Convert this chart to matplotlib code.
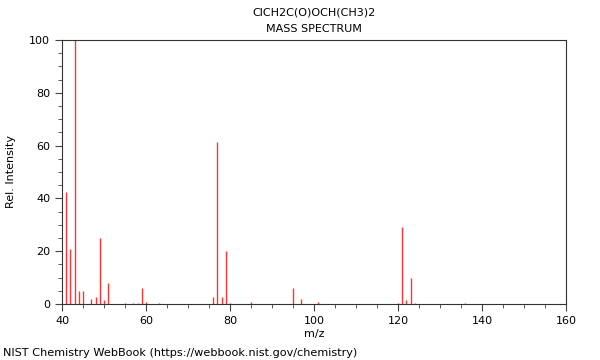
import matplotlib
matplotlib.use("Agg")
import matplotlib.pyplot as plt
from matplotlib.ticker import MultipleLocator

mz = [41, 42, 43, 44, 45, 47, 48, 49, 50, 51, 55, 57, 58, 59, 60, 63,
      76, 77, 78, 79, 80, 85, 95, 97, 101, 120, 121, 122, 123, 124, 136]
intensity = [42.4, 21, 100, 5, 5, 2, 2.5, 25, 1.5, 8, 0.3, 0.5, 0.3, 6, 0.8, 0.3,
             2.7, 61.5, 2.7, 20, 0.5, 0.7, 6, 2, 0.7, 0.3, 29, 1.7, 9.8, 0.5, 0.3]

title_lines = ["ClCH2C(O)OCH(CH3)2", "MASS SPECTRUM"]

fig = plt.figure(figsize=(6, 3.6), dpi=100)
ax = fig.add_axes([62/600, 1-304/360, (566-62)/600, (304-40)/360])
ax.vlines(mz, 0, intensity, colors="#ff3333", linewidth=1)
ax.set_xlim(40, 160)
ax.set_ylim(0, 100)
ax.xaxis.set_major_locator(MultipleLocator(20))
ax.xaxis.set_minor_locator(MultipleLocator(5))
ax.yaxis.set_major_locator(MultipleLocator(20))
ax.yaxis.set_minor_locator(MultipleLocator(5))
ax.tick_params(which="major", length=5, labelsize=8, direction="out", color="#444444")
ax.tick_params(which="minor", length=3, direction="out", color="#444444")
for s in ax.spines.values():
    s.set_color("#333333")
ax.set_xlabel("m/z", fontsize=8)
ax.set_ylabel("Rel. Intensity", fontsize=8)
ax.yaxis.set_label_coords(-0.091, 0.5)
ax.xaxis.set_label_coords(0.5, -0.095)
ax.set_title("\n".join(title_lines), fontsize=8, linespacing=1.75)
fig.text(3/600, 1-353/360, "NIST Chemistry WebBook (https://webbook.nist.gov/chemistry)",
         fontsize=8.15, va="center", ha="left")
fig.savefig("out.png", dpi=100)
